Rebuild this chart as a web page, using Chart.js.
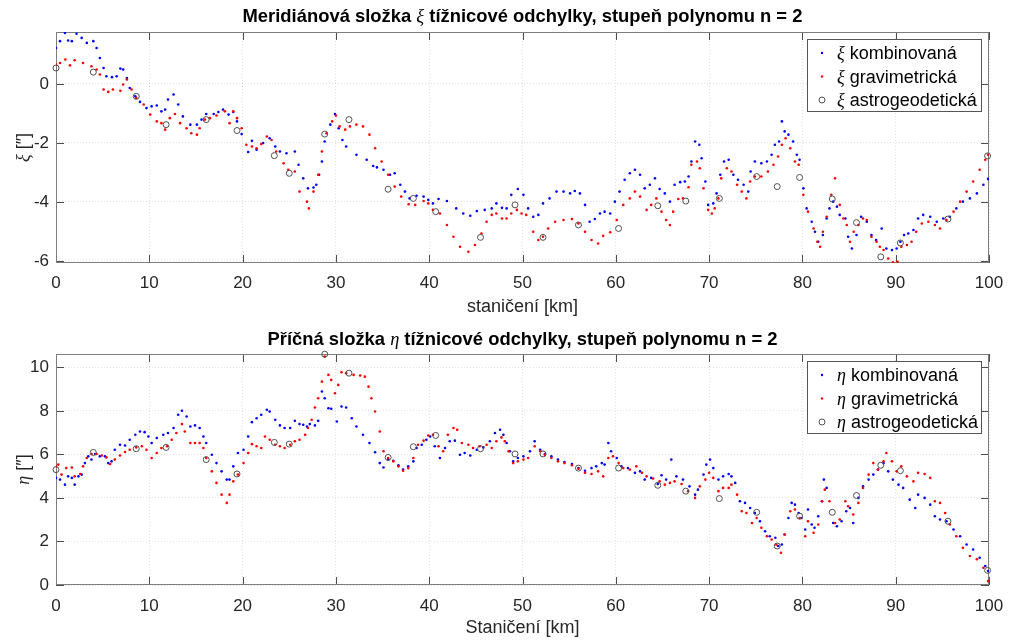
<!DOCTYPE html>
<html>
<head>
<meta charset="utf-8">
<script src="https://cdn.jsdelivr.net/npm/chart.js@4"></script>
<style>
  body { margin: 0; background: #fff; }
  .wrap { position: relative; width: 1010px; height: 640px; }
  canvas { position: absolute; left: 0; }
</style>
</head>
<body>
<div class="wrap">
  <canvas id="xiChart" width="1010" height="320" style="top:0"></canvas>
  <canvas id="etaChart" width="1010" height="320" style="top:320px"></canvas>
</div>
<script>
// stationing ticks [km] and value ticks
const xTicks = [0, 10, 20, 30, 40, 50, 60, 70, 80, 90, 100];
const xiTicks = [-6, -4, -2, 0];
const etaTicks = [0, 2, 4, 6, 8, 10];

// xi, combined solution [km, arcsec]
const xiKomb = [[0,1.22],[0.43,1.45],[0.96,1.73],[1.3,1.47],[1.7,1.45],[2.2,1.7],[2.75,1.56],[3.3,1.39],[4.0,1.45],[4.35,1.22],[4.7,0.88],[5.1,0.54],[5.4,0.26],[6.0,0.23],[6.5,0.26],[6.9,0.52],[7.2,0.49],[7.6,0.2],[7.9,-0.14],[8.5,-0.42],[9.0,-0.61],[9.7,-0.82],[10.25,-0.76],[10.8,-0.73],[11.3,-0.93],[11.7,-0.87],[12.0,-0.53],[12.6,-0.36],[13.1,-0.7],[13.6,-1.1],[14.4,-1.38],[15.1,-1.38],[15.6,-1.21],[16.1,-1.02],[16.9,-1.02],[17.4,-0.95],[17.9,-0.87],[18.5,-1.04],[19.0,-0.95],[19.4,-1.27],[19.9,-1.7],[20.6,-2.31],[21.0,-1.93],[21.5,-2.23],[22.2,-2.0],[22.9,-1.84],[23.5,-2.12],[24.0,-2.29],[24.7,-2.35],[25.6,-2.29],[26.0,-2.74],[26.5,-3.2],[27.0,-3.54],[27.6,-3.51],[27.9,-3.42],[28.2,-3.08],[28.5,-2.63],[28.8,-1.95],[29.4,-1.38],[29.9,-1.02],[30.3,-1.5],[30.7,-1.9],[31.1,-2.12],[32.2,-2.4],[33.3,-2.57],[34.0,-2.78],[34.4,-2.83],[35.1,-2.91],[35.8,-3.08],[36.3,-3.03],[36.9,-3.42],[37.4,-3.65],[37.9,-3.88],[38.65,-3.79],[39.4,-3.82],[39.9,-3.93],[40.4,-4.05],[41.0,-3.9],[41.9,-3.97],[42.9,-4.22],[43.65,-4.39],[44.4,-4.47],[45.1,-4.31],[45.95,-4.27],[46.7,-4.22],[47.2,-4.05],[47.8,-4.2],[48.3,-4.22],[48.8,-3.76],[49.5,-3.56],[50.1,-3.76],[50.6,-4.22],[51.15,-4.5],[51.7,-4.44],[52.2,-4.05],[52.9,-3.88],[53.65,-3.65],[54.4,-3.65],[55.1,-3.71],[55.6,-3.63],[56.15,-3.71],[56.7,-4.1],[57.2,-4.67],[57.75,-4.58],[58.3,-4.39],[58.8,-4.33],[59.4,-4.39],[59.9,-3.99],[60.4,-3.65],[60.95,-3.25],[61.5,-3.03],[62.05,-2.91],[62.6,-3.08],[63.1,-3.54],[63.65,-3.42],[64.2,-3.2],[64.7,-3.56],[65.25,-3.71],[65.8,-3.99],[66.3,-3.42],[66.9,-3.33],[67.4,-3.31],[67.8,-3.14],[68.1,-2.63],[68.5,-1.95],[68.95,-2.06],[69.2,-2.52],[69.6,-3.31],[69.9,-4.1],[70.45,-4.05],[70.8,-3.71],[71.2,-3.08],[71.6,-2.63],[72.1,-2.57],[72.6,-3.08],[73.1,-3.25],[73.7,-3.42],[74.2,-3.65],[74.45,-2.97],[74.9,-2.63],[75.6,-2.69],[76.2,-2.63],[76.7,-2.4],[77.05,-2.06],[77.5,-1.95],[77.8,-1.27],[78.1,-1.61],[78.5,-1.72],[79.0,-1.95],[79.4,-2.4],[79.7,-2.57],[80.1,-3.54],[80.45,-4.22],[81.0,-4.67],[81.35,-5.01],[81.7,-5.35],[82.2,-5.12],[82.6,-4.56],[82.9,-4.22],[83.3,-3.99],[83.7,-4.16],[84.0,-4.44],[84.6,-4.56],[84.9,-5.18],[85.3,-5.58],[85.8,-5.12],[86.3,-4.5],[86.9,-4.67],[87.4,-5.12],[87.9,-5.29],[88.5,-4.9],[89.0,-5.58],[89.6,-5.63],[90.1,-5.58],[90.5,-5.35],[90.9,-5.12],[91.35,-5.07],[91.9,-4.95],[92.4,-4.56],[92.95,-4.44],[93.7,-4.5],[94.4,-4.67],[95.1,-4.56],[95.8,-4.5],[96.5,-4.22],[97.2,-3.99],[97.95,-3.88],[98.7,-3.71],[99.4,-3.42],[99.9,-3.22]];

// xi, gravimetric solution
const xiGrav = [[0,0.66],[0.43,0.71],[1.0,0.83],[1.5,0.63],[2.0,0.8],[2.9,0.71],[3.8,0.6],[4.35,0.49],[4.7,0.32],[5.1,-0.19],[5.6,-0.27],[6.1,-0.19],[6.9,-0.23],[7.2,-0.02],[7.6,0.15],[8.1,-0.19],[8.6,-0.48],[9.4,-0.7],[10.1,-1.04],[10.8,-1.27],[11.3,-1.33],[11.7,-1.55],[12.2,-1.16],[12.75,-1.02],[13.3,-1.33],[14.0,-1.5],[14.5,-1.67],[15.1,-1.72],[15.4,-1.5],[15.96,-1.21],[16.5,-1.16],[17.2,-1.07],[18.1,-0.93],[18.6,-1.33],[19.0,-0.93],[19.4,-1.16],[19.9,-1.5],[20.4,-2.06],[21.0,-2.12],[21.5,-2.18],[22.0,-2.04],[22.6,-1.78],[23.1,-1.9],[23.6,-2.29],[24.4,-2.69],[24.9,-2.91],[25.6,-2.97],[26.1,-3.65],[26.9,-3.99],[27.1,-4.22],[27.6,-3.65],[28.1,-3.08],[28.5,-2.29],[29.0,-1.67],[29.6,-1.27],[30.0,-1.07],[30.4,-1.44],[31.0,-1.55],[31.5,-1.44],[32.2,-1.38],[32.9,-1.44],[33.6,-1.72],[34.2,-2.18],[34.9,-2.63],[35.6,-3.08],[36.3,-3.48],[37.0,-3.82],[37.8,-4.08],[38.5,-4.1],[39.4,-3.97],[39.9,-4.05],[40.4,-4.27],[41.15,-4.39],[41.9,-4.78],[42.6,-5.18],[43.3,-5.52],[44.2,-5.69],[44.9,-5.46],[45.6,-5.07],[46.15,-4.67],[46.7,-4.44],[47.2,-4.39],[47.8,-4.56],[48.3,-4.56],[48.8,-4.39],[49.4,-4.27],[49.9,-4.39],[50.4,-4.44],[51.15,-5.01],[51.7,-5.29],[52.2,-5.18],[52.75,-4.9],[53.5,-4.67],[54.4,-4.61],[55.3,-4.58],[56.0,-4.73],[56.7,-5.01],[57.4,-5.29],[58.1,-5.41],[58.65,-5.15],[59.4,-5.03],[60.1,-4.61],[60.8,-4.1],[61.5,-3.88],[62.05,-3.65],[62.6,-3.82],[63.3,-4.27],[63.8,-4.1],[64.35,-3.88],[64.9,-4.33],[65.4,-4.61],[65.8,-4.78],[66.15,-4.33],[66.7,-3.9],[67.2,-3.88],[67.8,-3.5],[68.1,-2.74],[68.7,-2.63],[69.0,-2.86],[69.4,-3.54],[69.9,-4.27],[70.3,-4.39],[70.6,-4.22],[71.0,-3.88],[71.3,-3.2],[71.9,-2.86],[72.4,-2.97],[73.0,-3.42],[73.5,-3.65],[74.0,-3.88],[74.4,-3.31],[74.9,-3.14],[75.6,-3.14],[76.3,-2.97],[76.9,-2.74],[77.4,-2.46],[77.8,-2.06],[78.2,-1.84],[78.7,-2.18],[79.2,-2.63],[79.6,-2.74],[80.1,-3.76],[80.6,-4.33],[81.2,-4.9],[81.6,-5.35],[81.9,-5.52],[82.2,-5.01],[82.6,-4.5],[83.1,-3.76],[83.5,-3.2],[84.0,-4.1],[84.4,-4.56],[84.75,-4.78],[85.1,-5.35],[85.5,-5.01],[86.0,-4.78],[86.5,-4.56],[86.9,-4.61],[87.4,-5.18],[87.95,-5.35],[88.3,-5.52],[88.7,-5.63],[89.2,-5.92],[89.7,-6.05],[90.2,-6.03],[90.6,-5.52],[91.2,-5.46],[91.7,-5.35],[92.2,-5.01],[92.8,-4.73],[93.5,-4.67],[94.2,-4.78],[94.75,-4.9],[95.45,-4.61],[96.2,-4.33],[96.9,-3.99],[97.6,-3.65],[98.3,-3.31],[99.0,-2.91],[99.6,-2.57],[99.9,-2.4]];

// eta, combined solution
const etaKomb = [[0,4.92],[0.43,4.84],[0.96,4.61],[1.3,4.99],[1.7,4.92],[2.0,4.61],[2.4,4.99],[2.75,5.07],[3.1,5.6],[3.46,5.91],[3.8,5.76],[4.2,6.02],[4.7,5.91],[5.25,5.91],[5.6,5.6],[5.96,5.68],[6.3,6.21],[6.86,6.44],[7.4,6.41],[7.9,6.67],[8.5,6.9],[9.0,7.05],[9.5,7.02],[9.9,6.82],[10.25,6.52],[10.8,6.75],[11.5,6.9],[12.0,6.98],[12.6,7.21],[13.1,7.82],[13.5,8.0],[14.0,7.74],[14.4,7.28],[14.9,7.33],[15.4,7.21],[15.8,6.82],[16.1,6.52],[16.7,5.98],[17.2,5.6],[17.75,5.22],[18.3,4.84],[18.6,4.84],[19.0,5.45],[19.5,6.06],[20.1,6.21],[20.6,6.82],[21.0,7.48],[21.5,7.66],[22.0,7.82],[22.6,8.05],[22.9,7.97],[23.5,7.59],[24.0,7.33],[24.5,7.21],[25.1,7.21],[25.6,7.54],[26.1,7.39],[26.5,7.36],[26.9,7.28],[27.2,7.39],[27.75,7.33],[28.1,7.54],[28.5,8.89],[28.8,8.58],[29.2,8.12],[29.5,8.09],[30.1,7.51],[30.6,8.2],[31.1,8.15],[31.7,7.66],[32.2,7.28],[32.9,6.9],[33.6,6.52],[34.2,6.1],[34.7,5.6],[35.1,5.4],[35.6,5.76],[36.15,5.71],[36.7,5.5],[37.2,5.3],[37.75,5.45],[38.3,5.68],[38.65,6.29],[39.2,6.44],[39.7,6.67],[40.1,6.82],[40.6,6.37],[41.15,5.83],[41.7,6.29],[42.2,6.6],[42.75,6.63],[43.3,5.98],[43.8,6.06],[44.4,5.95],[45.1,6.21],[45.8,6.32],[46.5,6.6],[47.05,6.98],[47.6,7.13],[47.95,6.9],[48.3,6.52],[48.65,6.14],[49.0,5.68],[49.5,5.83],[50.1,5.91],[50.8,6.14],[51.3,6.6],[51.9,6.21],[52.4,6.02],[53.1,5.91],[53.8,5.76],[54.5,5.65],[55.3,5.56],[56.0,5.37],[56.7,5.25],[57.4,5.37],[57.9,5.45],[58.5,5.6],[58.8,5.53],[59.2,6.52],[59.5,6.14],[60.1,5.83],[60.6,5.45],[61.3,5.37],[62.05,5.15],[62.6,5.22],[63.1,4.84],[63.8,4.92],[64.5,4.64],[64.9,5.04],[65.4,4.84],[65.95,5.76],[66.5,4.99],[67.2,4.84],[67.9,4.53],[68.5,4.15],[68.8,4.38],[69.4,5.07],[69.7,5.53],[70.1,5.76],[70.45,5.37],[71.0,4.84],[71.5,4.99],[72.1,5.1],[72.4,4.99],[72.8,4.69],[73.3,3.85],[73.85,3.77],[74.4,3.54],[74.9,3.31],[75.45,2.93],[76.0,2.47],[76.5,2.24],[77.1,2.17],[77.4,1.79],[77.8,1.86],[78.1,2.32],[78.5,3.08],[78.85,3.77],[79.2,3.69],[79.6,3.31],[79.9,3.08],[80.3,2.55],[80.6,3.47],[81.0,2.78],[81.3,2.63],[81.7,3.16],[82.1,3.85],[82.3,4.84],[82.6,4.46],[83.3,2.85],[83.7,2.7],[84.2,2.93],[84.7,3.39],[85.1,3.54],[85.45,2.85],[86.0,4.0],[86.5,4.53],[87.1,4.84],[87.6,5.07],[88.1,5.3],[88.7,5.6],[89.2,5.22],[89.7,4.84],[90.3,4.61],[90.8,4.46],[91.5,3.92],[92.1,3.54],[92.4,4.15],[93.1,4.0],[93.7,3.69],[94.2,3.16],[94.75,3.01],[95.45,2.93],[96.2,2.55],[96.9,2.24],[97.6,1.86],[98.3,1.63],[99.0,1.25],[99.6,0.87],[99.9,0.64]];

// eta, gravimetric solution
const etaGrav = [[0,5.45],[0.25,5.53],[0.6,5.07],[1.1,5.37],[1.7,5.4],[2.0,4.99],[2.6,5.1],[2.9,5.45],[3.3,5.83],[3.8,6.02],[4.35,6.02],[4.9,5.95],[5.4,5.86],[5.8,5.56],[6.3,5.76],[6.86,5.95],[7.4,6.11],[7.9,6.21],[8.6,6.32],[9.2,6.37],[9.7,6.21],[10.25,5.83],[10.8,6.06],[11.3,6.29],[11.9,6.37],[12.4,6.67],[12.9,6.98],[13.5,7.39],[13.8,7.05],[14.4,6.52],[14.9,6.52],[15.4,6.52],[15.8,6.29],[16.1,5.83],[16.7,5.22],[17.2,4.69],[17.75,4.15],[18.3,3.77],[18.6,4.15],[19.0,4.76],[19.5,5.07],[20.1,5.6],[20.6,6.06],[21.0,6.47],[21.5,6.37],[22.0,6.29],[22.4,6.82],[22.9,6.67],[23.5,6.44],[24.0,6.37],[24.5,6.29],[25.1,6.44],[25.6,6.6],[26.1,6.67],[26.7,6.9],[27.0,7.21],[27.4,7.59],[27.75,8.15],[28.1,8.58],[28.5,9.34],[28.8,10.49],[29.2,9.65],[29.5,9.42],[29.9,8.81],[30.25,9.19],[30.6,9.77],[31.1,9.73],[31.9,9.65],[32.6,9.62],[33.1,9.57],[33.5,9.11],[33.8,8.58],[34.2,7.97],[34.7,7.05],[35.1,6.14],[35.6,5.83],[36.15,5.68],[36.7,5.45],[37.2,5.25],[37.75,5.37],[38.3,5.83],[38.8,6.44],[39.4,6.63],[39.9,6.87],[40.4,6.9],[41.0,6.37],[41.5,6.14],[42.0,6.9],[42.6,7.21],[43.0,7.13],[43.5,6.52],[44.2,6.44],[44.7,6.29],[45.4,6.37],[46.15,6.44],[46.7,6.29],[47.2,6.6],[47.75,6.78],[48.1,6.6],[48.5,6.14],[49.0,5.6],[49.5,5.68],[50.1,5.76],[50.6,5.83],[51.3,6.37],[51.9,6.14],[52.4,5.98],[53.1,5.83],[53.8,5.68],[54.5,5.6],[55.3,5.5],[56.0,5.34],[56.7,5.15],[57.4,5.1],[58.1,5.22],[58.65,4.99],[59.2,5.83],[59.7,5.91],[60.3,5.6],[60.8,5.37],[61.5,5.3],[62.2,5.45],[62.8,5.15],[63.3,4.99],[64.0,4.89],[64.7,4.76],[65.25,4.61],[65.8,4.69],[66.3,4.76],[67.05,4.64],[67.75,4.31],[68.5,4.0],[69.0,4.53],[69.6,4.84],[70.0,5.15],[70.45,4.92],[71.0,4.31],[71.5,4.46],[72.1,4.46],[72.4,4.61],[73.0,4.15],[73.5,3.39],[74.0,3.31],[74.6,2.85],[75.1,3.08],[75.6,2.63],[76.2,2.24],[76.7,2.09],[77.2,1.86],[77.7,1.48],[78.1,2.32],[78.7,3.39],[79.2,3.47],[79.7,3.08],[80.3,2.24],[80.6,2.93],[81.2,2.4],[81.7,2.78],[82.1,3.85],[82.4,4.38],[82.9,3.85],[83.5,2.85],[84.0,3.01],[84.6,3.85],[84.9,3.62],[85.45,3.24],[86.0,3.77],[86.5,4.46],[87.1,5.07],[87.6,5.6],[88.1,5.3],[88.7,5.68],[89.0,6.06],[89.6,5.68],[90.1,5.22],[90.6,5.45],[91.2,4.99],[91.9,4.76],[92.4,5.15],[93.1,5.1],[93.7,4.92],[94.2,3.85],[94.75,3.77],[95.3,3.31],[95.8,2.78],[96.5,2.24],[97.2,1.71],[97.95,1.33],[98.7,1.18],[99.4,0.79],[99.9,0.18]];

// astrogeodetic points
const astroKm = [0, 4.0, 8.6, 11.8, 16.1, 19.4, 23.4, 25.0, 28.8, 31.4, 35.6, 38.3, 40.7, 45.5, 49.2, 52.2, 56.0, 60.3, 64.5, 67.5, 71.1, 75.1, 77.3, 79.7, 83.2, 85.8, 88.4, 90.5, 95.6, 99.85];
const xiAstro = [0.54, 0.4, -0.42, -1.38, -1.21, -1.58, -2.43, -3.03, -1.7, -1.21, -3.57, -3.88, -4.33, -5.2, -4.1, -5.2, -4.78, -4.9, -4.13, -3.97, -3.88, -3.14, -3.48, -3.17, -3.9, -4.7, -5.86, -5.39, -4.58, -2.44];
const etaAstro = [5.3, 6.09, 6.26, 6.32, 5.76, 5.1, 6.55, 6.47, 10.6, 9.73, 5.86, 6.35, 6.87, 6.26, 6.02, 6.02, 5.37, 5.37, 4.58, 4.31, 3.97, 3.34, 1.79, 3.16, 3.34, 4.11, 5.5, 5.25, 2.93, 0.67];

const SANS = '"Liberation Sans", Arial, Helvetica, sans-serif';
const F_TITLE = 'bold 18.4px ' + SANS;
const F_TGREEK = 'italic 18.4px "Liberation Serif", "DejaVu Serif", serif';
const F_REG = '18px ' + SANS;
const F_GREEK = 'italic 18px "Liberation Serif", "DejaVu Serif", serif';
const INK = '#262626';

const pairs = arr => arr.map(p => ({ x: p[0], y: p[1] }));
const astro = vals => astroKm.map((x, i) => ({ x, y: vals[i] }));

function drawRuns(ctx, parts, x, y, center) {
  let w = 0;
  parts.forEach(p => { ctx.font = p[1]; w += ctx.measureText(p[0]).width; });
  let cx = center ? x - w / 2 : x;
  ctx.textAlign = 'left';
  parts.forEach(p => {
    ctx.font = p[1];
    ctx.fillText(p[0], cx, y);
    cx += ctx.measureText(p[0]).width;
  });
}

// matlab-like frame, title, y label and legend
const matlabPlugin = {
  id: 'matlab',
  beforeDatasetsDraw(chart, args, opts) {
    const { ctx, chartArea: a } = chart;
    const sx = chart.scales.x, sy = chart.scales.y;
    ctx.save();
    ctx.strokeStyle = '#4d4d4d';
    ctx.lineWidth = 1;
    ctx.beginPath();
    sx.ticks.forEach(t => {
      const px = Math.round(sx.getPixelForValue(t.value)) + 0.5;
      ctx.moveTo(px, a.bottom); ctx.lineTo(px, a.bottom - 8);
      ctx.moveTo(px, a.top); ctx.lineTo(px, a.top + 8);
    });
    sy.ticks.forEach(t => {
      const py = Math.round(sy.getPixelForValue(t.value)) + 0.5;
      ctx.moveTo(a.left, py); ctx.lineTo(a.left + 8, py);
      ctx.moveTo(a.right, py); ctx.lineTo(a.right - 8, py);
    });
    ctx.stroke();
    ctx.strokeStyle = '#7d7d7d';
    ctx.strokeRect(Math.round(a.left) + 0.5, Math.round(a.top) + 0.5,
      Math.round(a.right - a.left) - 1, Math.round(a.bottom - a.top) - 1);
    ctx.restore();
  },
  afterDraw(chart, args, opts) {
    const { ctx, chartArea: a } = chart;
    ctx.save();
    ctx.fillStyle = '#000';
    ctx.textBaseline = 'alphabetic';
    drawRuns(ctx, opts.title, (a.left + a.right) / 2, opts.titleY, true);

    // y label, rotated
    ctx.fillStyle = INK;
    ctx.save();
    ctx.translate(24, (a.top + a.bottom) / 2);
    ctx.rotate(-Math.PI / 2);
    ctx.textBaseline = 'middle';
    drawRuns(ctx, opts.ylabel, 0, 0, true);
    ctx.restore();

    // legend box
    const bx = a.right - 182, by = a.top + 7, bw = 174, bh = 72;
    ctx.fillStyle = '#fff';
    ctx.fillRect(bx, by, bw, bh);
    ctx.strokeStyle = '#555';
    ctx.lineWidth = 1;
    ctx.strokeRect(bx + 0.5, by + 0.5, bw, bh);
    ctx.textBaseline = 'alphabetic';
    opts.legend.forEach((row, i) => {
      const base = by + 20 + i * 23.5;
      const my = base - 6;
      const mx = bx + 15;
      if (row.circle) {
        ctx.strokeStyle = row.color;
        ctx.beginPath(); ctx.arc(mx, my, 3, 0, Math.PI * 2); ctx.stroke();
      } else {
        ctx.fillStyle = row.color;
        ctx.beginPath(); ctx.arc(mx, my, 1.2, 0, Math.PI * 2); ctx.fill();
      }
      ctx.fillStyle = '#000';
      drawRuns(ctx, [[row.sym, F_GREEK], [' ' + row.text, F_REG]], bx + 30, base, false);
    });
    ctx.restore();
  }
};

function dotSet(data, color, order) {
  return {
    data, order, showLine: false,
    pointRadius: 1.3, pointHoverRadius: 1.3,
    pointBackgroundColor: color, pointBorderWidth: 0, borderColor: color
  };
}

function circleSet(data) {
  return {
    data, order: 1, showLine: false, clip: false,
    pointRadius: 3, pointHoverRadius: 3,
    pointBackgroundColor: 'rgba(0,0,0,0)', pointBorderColor: '#505050', pointBorderWidth: 1
  };
}

function makeChart(id, cfg) {
  return new Chart(document.getElementById(id), {
    type: 'scatter',
    data: { datasets: cfg.datasets },
    plugins: [matlabPlugin],
    options: {
      responsive: false,
      animation: false,
      devicePixelRatio: 1,
      layout: { padding: { top: cfg.top, right: 21, left: 0, bottom: 0 } },
      plugins: {
        legend: { display: false },
        tooltip: { enabled: false },
        matlab: cfg.matlab
      },
      scales: {
        x: {
          type: 'linear', min: 0, max: 100,
          afterBuildTicks: s => { s.ticks = xTicks.map(v => ({ value: v })); },
          afterFit: s => { s.height = cfg.xHeight; s.paddingLeft = 0; s.paddingRight = 0; },
          ticks: { padding: cfg.tickPad, color: INK, font: { family: SANS, size: 17 } },
          grid: { color: 'rgba(0,0,0,0.12)', drawTicks: false },
          border: { display: false, dash: [1, 2] },
          title: { display: true, text: cfg.xTitle, color: INK, font: { family: SANS, size: 18 }, padding: { top: 0, bottom: cfg.titlePad } }
        },
        y: {
          type: 'linear', min: cfg.yMin, max: cfg.yMax,
          afterBuildTicks: s => { s.ticks = cfg.yTicks.map(v => ({ value: v })); },
          afterFit: s => { s.width = 56; s.paddingTop = 0; s.paddingBottom = 0; },
          ticks: { padding: 7, color: INK, font: { family: SANS, size: 17 } },
          grid: { color: 'rgba(0,0,0,0.12)', drawTicks: false },
          border: { display: false, dash: [1, 2] }
        }
      }
    }
  });
}

makeChart('xiChart', {
  top: 32, xHeight: 57, tickPad: 10, titlePad: 2,
  yMin: -6.07, yMax: 1.76, yTicks: xiTicks,
  xTitle: 'staničení [km]',
  datasets: [
    dotSet(pairs(xiKomb), '#0000ff', 3),
    dotSet(pairs(xiGrav), '#ff0000', 2),
    circleSet(astro(xiAstro))
  ],
  matlab: {
    titleY: 22,
    title: [['Meridiánová složka ', F_TITLE], ['ξ', F_TGREEK], [' tížnicové odchylky, stupeň polynomu n = 2', F_TITLE]],
    ylabel: [['ξ', F_GREEK], [' [″]', F_REG]],
    legend: [
      { sym: 'ξ', text: 'kombinovaná', color: '#0000ff' },
      { sym: 'ξ', text: 'gravimetrická', color: '#ff0000' },
      { sym: 'ξ', text: 'astrogeodetická', color: '#505050', circle: true }
    ]
  }
});

makeChart('etaChart', {
  top: 34, xHeight: 55, tickPad: 11, titlePad: 1,
  yMin: 0, yMax: 10.61, yTicks: etaTicks,
  xTitle: 'Staničení [km]',
  datasets: [
    dotSet(pairs(etaKomb), '#0000ff', 3),
    dotSet(pairs(etaGrav), '#ff0000', 2),
    circleSet(astro(etaAstro))
  ],
  matlab: {
    titleY: 25,
    title: [['Příčná složka ', F_TITLE], ['η', F_TGREEK], [' tížnicové odchylky, stupeň polynomu n = 2', F_TITLE]],
    ylabel: [['η', F_GREEK], [' [″]', F_REG]],
    legend: [
      { sym: 'η', text: 'kombinovaná', color: '#0000ff' },
      { sym: 'η', text: 'gravimetrická', color: '#ff0000' },
      { sym: 'η', text: 'astrogeodetická', color: '#505050', circle: true }
    ]
  }
});
</script>
</body>
</html>
